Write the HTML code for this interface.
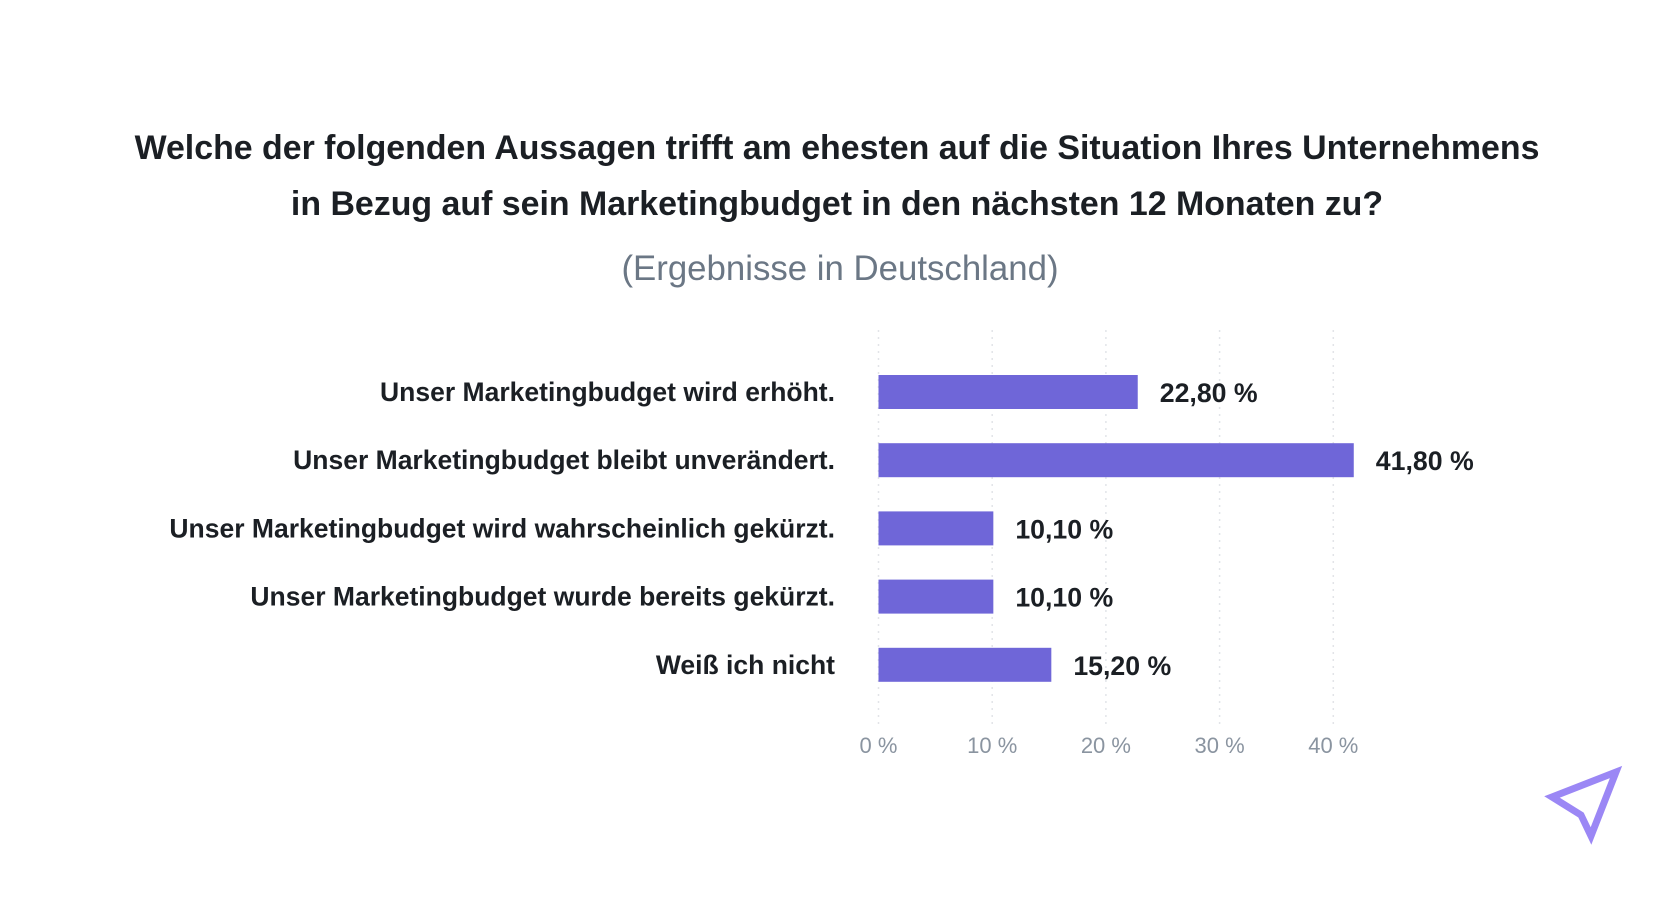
<!DOCTYPE html>
<html><head><meta charset="utf-8"><style>
body{margin:0;background:#fff;width:1675px;height:895px;overflow:hidden;font-family:"Liberation Sans",sans-serif}
</style></head><body>
<svg width="1675" height="895" xmlns="http://www.w3.org/2000/svg">
<text x="837" y="159" text-anchor="middle" font-size="33.9" font-weight="bold" fill="#1b1f24">Welche der folgenden Aussagen trifft am ehesten auf die Situation Ihres Unternehmens</text>
<text x="837" y="215" text-anchor="middle" font-size="33.9" font-weight="bold" fill="#1b1f24">in Bezug auf sein Marketingbudget in den nächsten 12 Monaten zu?</text>
<text x="840" y="280" text-anchor="middle" font-size="34.8" fill="#6b7785">(Ergebnisse in Deutschland)</text>
<g id="grid"></g><g id="bars"></g><g id="ticks"></g>
<polygon points="1552,797 1616,772 1591,836 1581,815" fill="none" stroke="#9b87f5" stroke-width="7" stroke-linejoin="miter"/>
</svg>
<script>
const categories=["Unser Marketingbudget wird erhöht.","Unser Marketingbudget bleibt unverändert.","Unser Marketingbudget wird wahrscheinlich gekürzt.","Unser Marketingbudget wurde bereits gekürzt.","Weiß ich nicht"];
const values=[22.8,41.8,10.1,10.1,15.2];
const valueLabels=["22,80 %","41,80 %","10,10 %","10,10 %","15,20 %"];
const ticks=[0,10,20,30,40];
const tickLabels=["0 %","10 %","20 %","30 %","40 %"];
const NS="http://www.w3.org/2000/svg";
const x=v=>878.5+v*11.37;
const yc=i=>392+i*68.2;
function mk(t,a,p){const e=document.createElementNS(NS,t);for(const k in a)e.setAttribute(k,a[k]);p.appendChild(e);return e;}
const G=document.getElementById('grid'),B=document.getElementById('bars'),T=document.getElementById('ticks');
ticks.forEach((t,i)=>{
 const l=mk('line',{x1:x(t),x2:x(t),y1:330,y2:727,stroke:'#e2e4e8','stroke-width':1.5,'stroke-dasharray':'2 5'},G);
 
 
 const tx=mk('text',{x:x(t),y:753,'text-anchor':'middle','font-size':22,fill:'#8a94a0'},T);
 tx.textContent=tickLabels[i];
 
 
});
categories.forEach((c,i)=>{
 const lb=mk('text',{x:835,y:yc(i)+9,'text-anchor':'end','font-size':26.5,'font-weight':'bold',fill:'#1b1f24'},B);
 lb.textContent=c;
 
 
 const r=mk('rect',{x:x(0),y:yc(i)-17,width:x(values[i])-x(0),height:34,fill:'#6f66d8'},B);
 
 
 const v=mk('text',{x:x(values[i])+22,y:yc(i)+10,'font-size':26.7,'font-weight':'bold',fill:'#1b1f24'},B);
 v.textContent=valueLabels[i];
 
 
});
</script>
</body></html>
